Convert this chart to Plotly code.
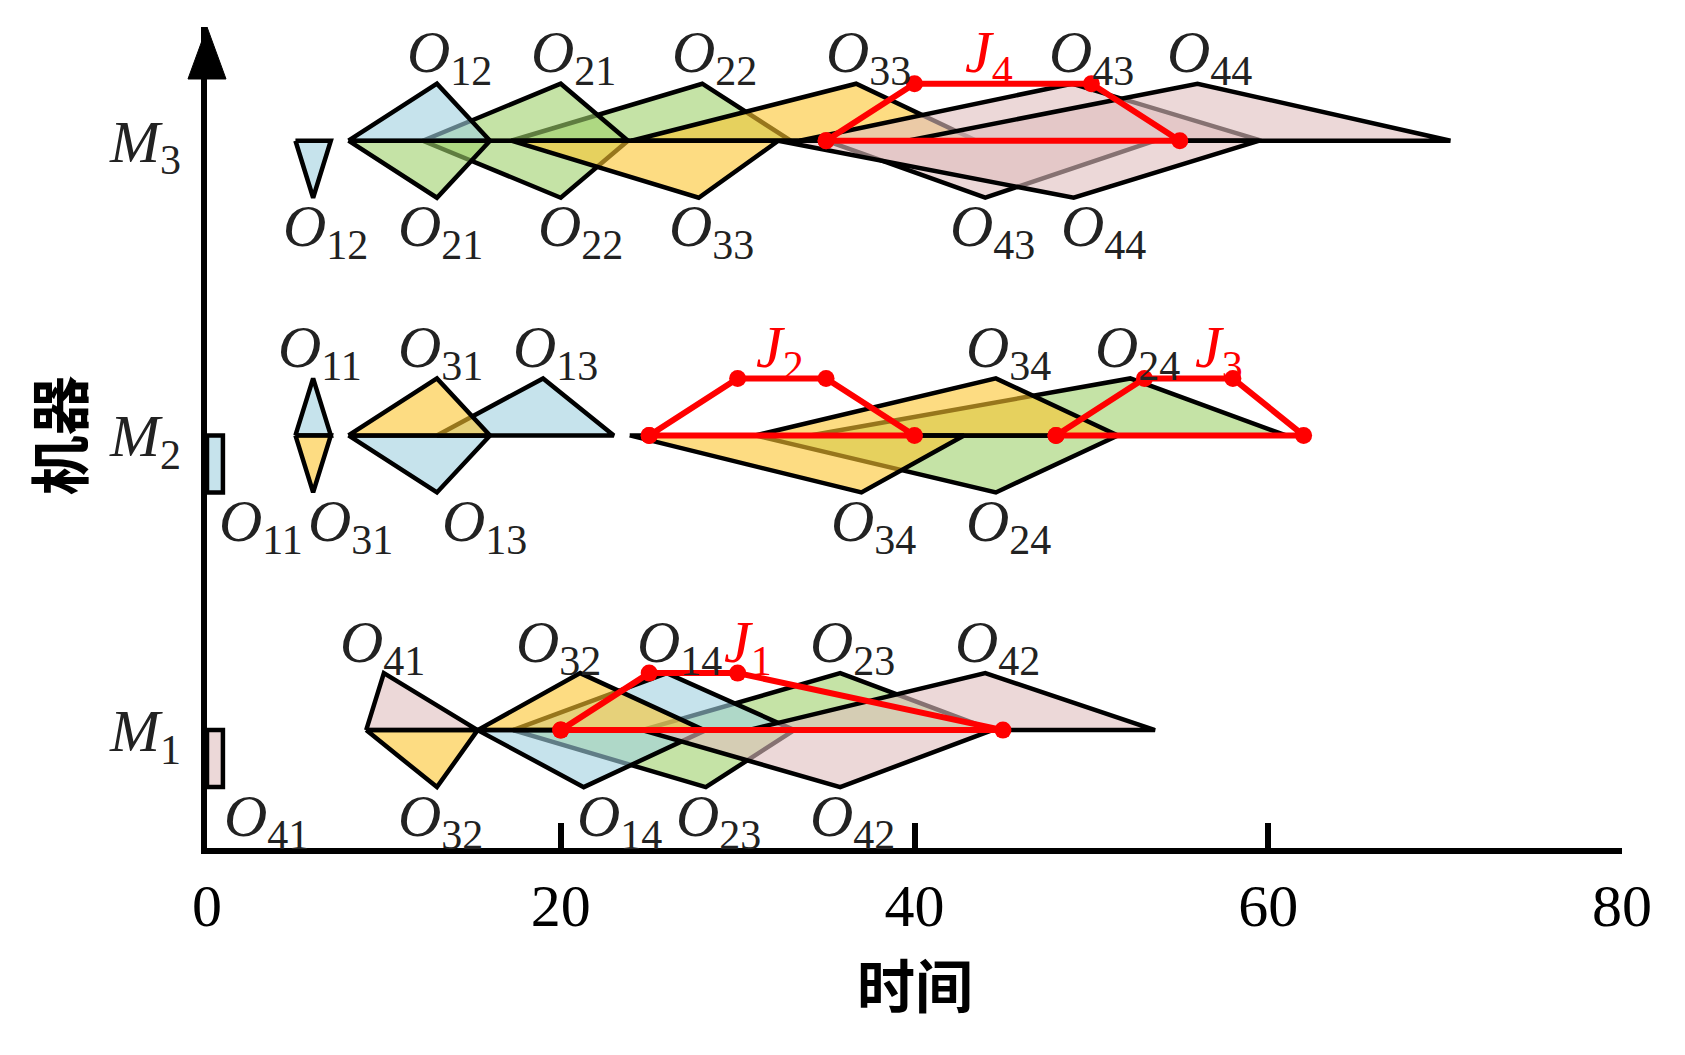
import plotly.graph_objects as go

# fuzzy start / end times (left, peak, right)
m1_ops = ['O41', 'O32', 'O14', 'O23', 'O42']
m1_start = [(0, 0, 0), (9, 13, 15.3), (15.3, 21.3, 28.2), (17.3, 28.2, 33.2), (24.6, 35.8, 44.4)]
m1_end = [(9, 10, 15.3), (15.3, 21.1, 28.1), (17.3, 26, 33.2), (24.6, 35.8, 44.4), (30.6, 44, 53.6)]

m2_ops = ['O11', 'O31', 'O13', 'O34', 'O24']
m2_start = [(0, 0, 0), (5, 6, 7), (8, 13, 16), (23.9, 37, 42.8), (31, 44.6, 51.5)]
m2_end = [(5, 6, 7), (8, 13, 16), (13, 19, 23), (31, 44.6, 51.5), (34.1, 52.2, 61)]

m3_ops = ['O12', 'O21', 'O22', 'O33', 'O43', 'O44']
m3_start = [(5, 6, 7), (8, 13, 16), (12.2, 20, 23.8), (17.2, 27.8, 32.3), (35, 44, 53.6), (32.3, 49, 59.5)]
m3_end = [(8, 13, 16), (12.2, 20, 23.8), (17.2, 28, 33), (24, 36.7, 43.5), (33.5, 48.9, 59.6), (39.6, 56, 70.3)]

# fuzzy due dates (trapezoids), drawn on the machine of the last operation
jobs = ['J1', 'J2', 'J3', 'J4']
due = [(20, 25, 30, 45), (25, 30, 35, 40), (48, 53, 58, 62), (35, 40, 50, 55)]
due_machine = [1, 2, 2, 3]

machine_names = ['M1', 'M2', 'M3']
machine_y = [1, 2, 3]
x_ticks = [0, 20, 40, 60, 80]

# styling (page has an 8px body margin, so the figure is offset by it)
W, H = 1685, 1055
ML, MR, MT, MB = 199, 71, 19, 215
PLOT_W = W - ML - MR
PLOT_H = H - MT - MB
PX_Y = 294.7                      # pixels per machine row
h = 57 / PX_Y                     # triangle height
crisp_w = 0.9                     # width of the bar drawn for a crisp zero start
job_fill = {
    '1': 'rgba(160, 208, 223, 0.6)',
    '2': 'rgba(158, 208, 107, 0.6)',
    '3': 'rgba(252, 197, 47, 0.6)',
    '4': 'rgba(223, 190, 190, 0.6)',
}
draw_order = ['O24', 'O23', 'O22', 'O21', 'O11', 'O12', 'O13', 'O14',
              'O31', 'O32', 'O33', 'O34', 'O41', 'O42', 'O43', 'O44']
up_dx = {'O41': -0.1, 'O32': -1.2, 'O11': 0.4, 'O31': 0.2, 'O24': 0.4, 'O43': 1.1}
lo_dx = {'O41': 2.9, 'O11': 2.6, 'O31': 2.1, 'O13': 2.7, 'O14': 2.0, 'O44': 1.7,
         'O21': 0.2, 'O32': 0.2, 'O43': 0.4, 'O22': 1.1}
j_dx = {'J1': 3.1, 'J2': -0.1, 'J3': 1.7, 'J4': -0.8}
serif = 'Liberation Serif, Times New Roman, serif'
txt_col = '#222222'

y_lo = 0.6
y_hi = y_lo + PLOT_H / PX_Y

ops = {}
for m, names, st, en in [(1, m1_ops, m1_start, m1_end),
                         (2, m2_ops, m2_start, m2_end),
                         (3, m3_ops, m3_start, m3_end)]:
    for n, s, e in zip(names, st, en):
        ops[n] = (m, s, e)

fig = go.Figure()

for n in draw_order:
    m, s, e = ops[n]
    if s[0] == s[2]:
        lx = [s[0], s[0], s[0] + crisp_w, s[0] + crisp_w, s[0]]
        ly = [m, m - h, m - h, m, m]
    else:
        lx = [s[0], s[1], s[2], s[0]]
        ly = [m, m - h, m, m]
    ux = [e[0], e[1], e[2], e[0]]
    uy = [m, m + h, m, m]
    fig.add_trace(go.Scatter(
        x=lx + [None] + ux, y=ly + [None] + uy,
        mode='lines', fill='toself', fillcolor=job_fill[n[1]],
        line=dict(color='black', width=4.5), hoverinfo='skip', showlegend=False))

for j, d, m in zip(jobs, due, due_machine):
    fig.add_trace(go.Scatter(
        x=[d[0], d[1], d[2], d[3], d[0]], y=[m, m + h, m + h, m, m],
        mode='lines+markers', line=dict(color='#ff0000', width=6),
        marker=dict(color='#ff0000', size=17), hoverinfo='skip', showlegend=False))

ann = []
for n, (m, s, e) in ops.items():
    label = '<i>O</i><sub>%s</sub>' % n[1:]
    ann.append(dict(x=e[1] + up_dx.get(n, 0.7), y=m + h, yshift=27, text=label,
                    showarrow=False, xanchor='center', yanchor='middle',
                    font=dict(family=serif, size=60, color=txt_col)))
    base = s[0] + crisp_w / 2 if s[0] == s[2] else s[1]
    ann.append(dict(x=base + lo_dx.get(n, 0.7), y=m - h, yshift=-33, text=label,
                    showarrow=False, xanchor='center', yanchor='middle',
                    font=dict(family=serif, size=60, color=txt_col)))

for j, d, m in zip(jobs, due, due_machine):
    ann.append(dict(x=(d[1] + d[2]) / 2 + j_dx[j], y=m + h, yshift=27,
                    text='<i>J</i><sub>%s</sub>' % j[1:], showarrow=False,
                    xanchor='center', yanchor='middle',
                    font=dict(family=serif, size=60, color='#ff0000')))

# axis titles
ann.append(dict(x=40, y=-(975 - (H - MB)) / PLOT_H, xref='x', yref='paper',
                text='<b>时间</b>', showarrow=False, xanchor='center', yanchor='middle',
                font=dict(family='Noto Sans CJK SC', size=58, color='black')))
ann.append(dict(x=(48 - ML) / PLOT_W, y=2, xref='paper', yref='y',
                text='<b>机器</b>', showarrow=False, textangle=-90,
                xanchor='center', yanchor='middle',
                font=dict(family='Noto Sans CJK SC', size=60, color='black')))

# arrow head on top of the y axis
aw = 19 / PLOT_W
ah = 52 / PLOT_H
fig.add_shape(type='path', xref='paper', yref='paper',
              path='M %f %f L 0 1 L %f %f Z' % (-aw, 1 - ah, aw, 1 - ah),
              fillcolor='black', line=dict(color='black', width=1), layer='above')

fig.update_xaxes(range=[0, 80], tickvals=x_ticks, ticks='inside', ticklen=25, tickwidth=6,
                 tickcolor='black', showline=True, linewidth=6, linecolor='black',
                 showgrid=False, zeroline=False,
                 tickfont=dict(family=serif, size=60, color='black'))
fig.update_yaxes(range=[y_lo, y_hi], tickvals=machine_y,
                 ticktext=['<i>M</i><sub>%s</sub>' % n[1:] for n in machine_names],
                 ticks='', showline=True, linewidth=6, linecolor='black',
                 showgrid=False, zeroline=False, ticklabelstandoff=8,
                 tickfont=dict(family=serif, size=60, color=txt_col))
fig.update_layout(width=W, height=H, margin=dict(l=ML, r=MR, t=MT, b=MB),
                  plot_bgcolor='white', paper_bgcolor='white', annotations=ann)

fig.write_html('out.html')
